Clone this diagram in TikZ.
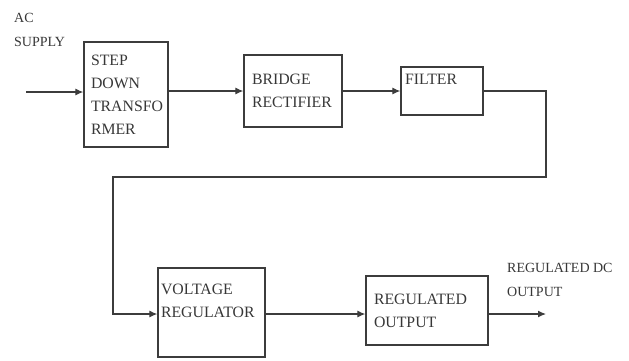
\documentclass[tikz,border=0pt]{standalone}
\usepackage{fontspec}
\setmainfont{Liberation Serif}
\usetikzlibrary{arrows.meta}
\definecolor{wire}{RGB}{60,60,60}
\definecolor{ink}{RGB}{55,55,55}

\begin{document}
\begin{tikzpicture}[x=1pt, y=1pt,
    blk/.style={draw=wire, line width=1.3pt, align=left, inner ysep=0pt,
                font=\rmfamily\fontsize{15.8}{23}\selectfont, text=ink},
    wr/.style={draw=wire, line width=1.2pt},
    arr/.style={wr, -{Latex[length=8pt,width=7pt]}},
    lab/.style={align=left, inner sep=0pt, anchor=west,
                font=\rmfamily\fontsize{14}{24}\selectfont, text=ink}]
  \useasboundingbox (0,0) rectangle (629,360);
  % blocks
  \node[blk, text width=70pt, inner xsep=7pt, minimum height=105pt] (tx) at (126,265.5)
    {STEP\\DOWN\\TRANSFO\\RMER};
  \node[blk, text width=82pt, inner xsep=8pt, minimum height=72pt] (br) at (293,269)
    {BRIDGE\\RECTIFIER};
  \node[blk, text width=74pt, inner xsep=4pt, minimum height=48pt] (fl) at (442,269)
    {FILTER\\\mbox{}};
  \node[blk, text width=101pt, inner xsep=3pt, minimum height=89pt] (vr) at (211.5,47.5)
    {VOLTAGE\\REGULATOR\\\mbox{}};
  \node[blk, text width=106pt, inner xsep=8pt, minimum height=69pt] (ro) at (427,49.5)
    {REGULATED\\OUTPUT};
  % labels
  \node[lab] (ac) at (14,330) {AC\\SUPPLY};
  \node[lab] (dc) at (507,80) {REGULATED DC\\OUTPUT};
  % wiring
  \coordinate (in)  at (26,268);
  \coordinate (out) at (546,46);
  \coordinate (rt)  at (546,183);
  \coordinate (lt)  at (113,183);
  \draw[arr] (in) -- (in -| tx.west);
  \draw[arr] (tx.east |- br.west) -- (br.west);
  \draw[arr] (br.east) -- (fl.west);
  \draw[arr] (fl.east) -| (rt) -- (lt) |- (vr.west |- out);
  \draw[arr] (vr.east |- out) -- (ro.west |- out);
  \draw[arr] (ro.east |- out) -- (out);
\end{tikzpicture}
\end{document}
